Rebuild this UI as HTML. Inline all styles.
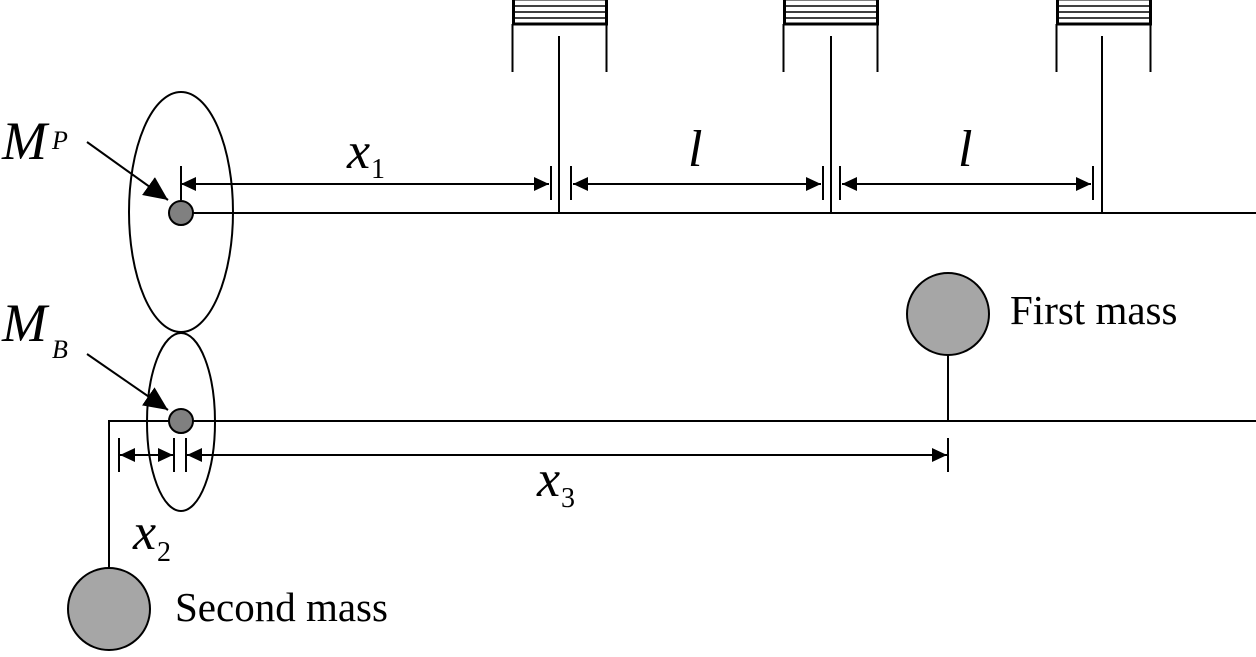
<!DOCTYPE html>
<html><head><style>html,body{margin:0;padding:0;background:#fff}</style></head><body>
<svg width="1256" height="652" viewBox="0 0 1256 652" xmlns="http://www.w3.org/2000/svg">
<defs>
<marker id="a" viewBox="0 0 10 10" refX="10" refY="5" markerWidth="15" markerHeight="14" markerUnits="userSpaceOnUse" orient="auto-start-reverse" preserveAspectRatio="none"><path d="M0,0L10,5L0,10z" fill="#000"/></marker>
<marker id="b" viewBox="0 0 10 10" refX="10" refY="5" markerWidth="24" markerHeight="22" markerUnits="userSpaceOnUse" orient="auto" preserveAspectRatio="none"><path d="M0,0L10,5L0,10z" fill="#000"/></marker>
<g id="p">
<rect x="1.5" y="-1" width="93" height="25" fill="#fff" stroke="#000" stroke-width="3"/>
<line x1="1" y1="6" x2="95" y2="6" stroke="#000" stroke-width="1.5"/>
<line x1="1" y1="12" x2="95" y2="12" stroke="#000" stroke-width="1.5"/>
<line x1="1" y1="18" x2="95" y2="18" stroke="#000" stroke-width="1.5"/>
<line x1="0.5" y1="24" x2="0.5" y2="72" stroke="#000" stroke-width="2"/>
<line x1="94.5" y1="24" x2="94.5" y2="72" stroke="#000" stroke-width="2"/>
</g>
</defs>
<g stroke="#000" stroke-width="2" fill="none">
<use href="#p" x="512" y="0"/>
<use href="#p" x="783" y="0"/>
<use href="#p" x="1056" y="0"/>
<line x1="559" y1="36" x2="559" y2="213"/>
<line x1="831" y1="36" x2="831" y2="213"/>
<line x1="1102" y1="36" x2="1102" y2="213"/>
<line x1="181" y1="213" x2="1256" y2="213"/>
<ellipse cx="181" cy="212" rx="52" ry="120"/>
<ellipse cx="181" cy="422" rx="34" ry="89"/>
<line x1="181" y1="166" x2="181" y2="200"/>
<line x1="551" y1="166" x2="551" y2="200"/>
<line x1="571" y1="166" x2="571" y2="200"/>
<line x1="823" y1="166" x2="823" y2="200"/>
<line x1="840" y1="166" x2="840" y2="200"/>
<line x1="1093" y1="166" x2="1093" y2="200"/>
<line x1="181" y1="184" x2="549" y2="184" marker-start="url(#a)" marker-end="url(#a)"/>
<line x1="573" y1="184" x2="821" y2="184" marker-start="url(#a)" marker-end="url(#a)"/>
<line x1="842" y1="184" x2="1091" y2="184" marker-start="url(#a)" marker-end="url(#a)"/>
<line x1="109" y1="421" x2="1256" y2="421"/>
<line x1="109" y1="420" x2="109" y2="570"/>
<line x1="948" y1="355" x2="948" y2="421"/>
<line x1="119" y1="438" x2="119" y2="472"/>
<line x1="174" y1="438" x2="174" y2="472"/>
<line x1="186" y1="438" x2="186" y2="472"/>
<line x1="948" y1="438" x2="948" y2="472"/>
<line x1="120" y1="455" x2="173" y2="455" marker-start="url(#a)" marker-end="url(#a)"/>
<line x1="187" y1="455" x2="947" y2="455" marker-end="url(#a)" marker-start="url(#a)"/>
<line x1="87" y1="142" x2="168" y2="200" marker-end="url(#b)"/>
<line x1="87" y1="354" x2="168" y2="410" marker-end="url(#b)"/>
</g>
<g fill="#808080" stroke="#000" stroke-width="2">
<circle cx="181" cy="213" r="12"/>
<circle cx="181" cy="421" r="12"/>
</g>
<g fill="#a6a6a6" stroke="#000" stroke-width="2">
<circle cx="948" cy="314" r="41"/>
<circle cx="109" cy="609" r="41"/>
</g>
<g font-family="Liberation Serif, serif" fill="#000">
<text x="2" y="159" font-size="54" font-style="italic">M</text>
<text x="52" y="149" font-size="26" font-style="italic">P</text>
<text x="2" y="341" font-size="54" font-style="italic">M</text>
<text x="52" y="358" font-size="26" font-style="italic">B</text>
<text x="347" y="168" font-size="52" font-style="italic">x</text>
<text x="371" y="178" font-size="28">1</text>
<text x="688" y="166" font-size="52" font-style="italic">l</text>
<text x="958" y="166" font-size="52" font-style="italic">l</text>
<text x="537" y="496" font-size="52" font-style="italic">x</text>
<text x="561" y="507" font-size="28">3</text>
<text x="133" y="549" font-size="52" font-style="italic">x</text>
<text x="157" y="561" font-size="28">2</text>
<text x="1010" y="324" font-size="41">First mass</text>
<text x="175" y="621" font-size="41">Second mass</text>
</g>
</svg>
</body></html>
